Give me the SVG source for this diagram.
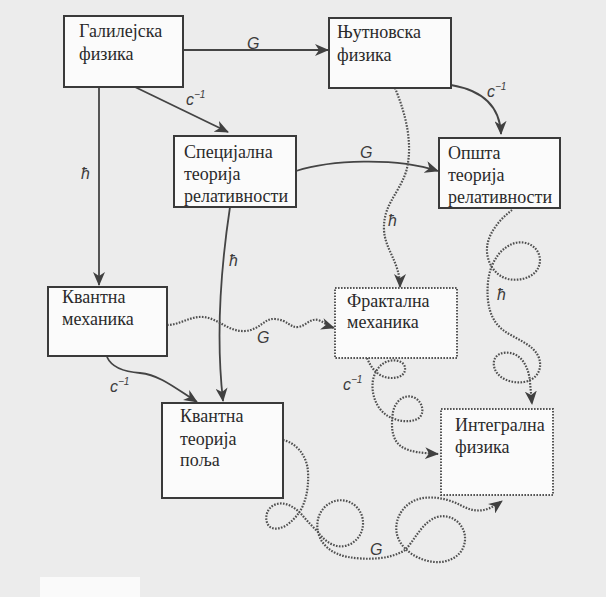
<svg xmlns="http://www.w3.org/2000/svg" width="606" height="597" viewBox="0 0 606 597">
<style>
.box{fill:#fbfbfb;stroke:#3a3a3a;stroke-width:2}
.dbox{fill:#fbfbfb;stroke:#555;stroke-width:2;stroke-dasharray:1.6 1.4}
.t{font-family:"Liberation Serif","Times New Roman",serif;font-size:18px;fill:#2a2a2a}
.c{fill:none;stroke:#444;stroke-width:1.8}
.d{fill:none;stroke:#505050;stroke-width:2.2;stroke-dasharray:1.6 1.4}
.l{font-family:"Liberation Sans",Arial,sans-serif;font-style:italic;font-size:16px;fill:#3c3c3c}
.s{font-size:10px}
</style>
<defs>
<marker id="ah" viewBox="0 0 14 12" refX="13" refY="6" markerWidth="14" markerHeight="12" markerUnits="userSpaceOnUse" orient="auto">
<path d="M0,0 L14,6 L0,12 L4,6 Z" fill="#404040"/>
</marker>
</defs>
<rect width="606" height="597" fill="#ececec"/>
<rect x="40" y="577" width="100" height="20" fill="#fafafa"/>

<g id="connectors">
<path class="c" d="M183,50 L328,50" marker-end="url(#ah)"/>
<path class="c" d="M135,87 L228,132" marker-end="url(#ah)"/>
<path class="c" d="M99,87 L99,285" marker-end="url(#ah)"/>
<path class="c" d="M296,171 C330,160 395,157 438,171" marker-end="url(#ah)"/>
<path class="c" d="M451,85 C480,90 500,105 501,134" marker-end="url(#ah)"/>
<path class="d" d="M395,88 C402,105 415,140 406,172 C398,195 383,205 384,230 C385,250 400,262 400,287" marker-end="url(#ah)"/>
<path class="c" d="M230,207 C222,260 215,330 223,401" marker-end="url(#ah)"/>
<path class="d" d="M167,325 C180,325 190,316 203,317 C218,318 228,332 245,331 C260,330 264,318 275,319 C288,320 290,328 298,327 C306,326 310,318 318,320 C324,322 328,326 334,328" marker-end="url(#ah)"/>
<path class="c" d="M107,357 C112,368 125,372 140,373 C160,375 175,388 197,402" marker-end="url(#ah)"/>
<path class="d" d="M367,358 C370,365 374,372 382,376 C391,380 404,378 405,370 C406,362 397,359 389,361 C381,363 375,370 373,380 C371,392 375,406 385,414 C394,421 410,424 419,418 C425,413 423,401 413,397 C403,394 395,402 393,412 C391,425 391,440 402,447 C410,452 422,453 438,454" marker-end="url(#ah)"/>
<path class="d" d="M512,210 C499,220 486,235 487,252 C488,265 496,276 508,279 C522,282 539,276 540,261 C540,247 527,240 515,243 C501,247 490,262 488,282 C486,303 490,320 503,330 C515,339 534,344 539,358 C543,370 536,380 524,382 C511,384 496,378 494,366 C492,355 503,350 514,354 C524,358 529,370 530,382 L532,404" marker-end="url(#ah)"/>
<path class="d" d="M283,440 C296,443 307,455 308,472 C309,490 305,505 298,514 C292,522 282,531 272,528 C264,525 264,510 274,505 C285,500 296,508 303,516 C308,522 313,527 318,532 C325,542 335,548 345,546 C358,543 366,530 362,516 C358,504 346,498 335,501 C322,505 315,518 318,532 C321,545 332,554 348,557 C365,560 390,560 405,550 C415,540 422,522 437,517 C452,513 466,525 465,540 C464,555 450,563 435,562 C420,561 405,552 399,540 C393,528 397,512 410,503 C423,494 445,497 460,505 C472,511 483,515 502,501" marker-end="url(#ah)"/>
<text class="l" x="247" y="49">G</text>
<text class="l" x="186" y="105">c<tspan class="s" dy="-7">−1</tspan></text>
<text class="l" x="81" y="179">ħ</text>
<text class="l" x="360" y="158">G</text>
<text class="l" x="487" y="97">c<tspan class="s" dy="-7">−1</tspan></text>
<text class="l" x="388" y="226">ħ</text>
<text class="l" x="229" y="266">ħ</text>
<text class="l" x="257" y="343">G</text>
<text class="l" x="110" y="392">c<tspan class="s" dy="-7">−1</tspan></text>
<text class="l" x="343" y="390">c<tspan class="s" dy="-7">−1</tspan></text>
<text class="l" x="497" y="300">ħ</text>
<text class="l" x="370" y="555">G</text>
</g>

<g id="galilean">
<rect class="box" x="64" y="16" width="119" height="71"/>
<text class="t" x="79" y="37">Галилејска</text>
<text class="t" x="79" y="60">физика</text>
</g>
<g id="newtonian">
<rect class="box" x="329" y="18" width="122" height="70"/>
<text class="t" x="337" y="38">Њутновска</text>
<text class="t" x="337" y="61">физика</text>
</g>
<g id="special-relativity">
<rect class="box" x="174" y="136" width="122" height="71"/>
<text class="t" x="184" y="158">Специјална</text>
<text class="t" x="184" y="180">теорија</text>
<text class="t" x="184" y="202">релативности</text>
</g>
<g id="general-relativity">
<rect class="box" x="439" y="138" width="121" height="70"/>
<text class="t" x="448" y="159">Општа</text>
<text class="t" x="448" y="181">теорија</text>
<text class="t" x="448" y="203">релативности</text>
</g>
<g id="quantum-mechanics">
<rect class="box" x="48" y="287" width="119" height="69"/>
<text class="t" x="62" y="303">Квантна</text>
<text class="t" x="62" y="325">механика</text>
</g>
<g id="fractal-mechanics">
<rect class="dbox" x="335" y="288" width="122" height="70"/>
<text class="t" x="347" y="307">Фрактална</text>
<text class="t" x="347" y="328">механика</text>
</g>
<g id="qft">
<rect class="box" x="162" y="403" width="121" height="95"/>
<text class="t" x="180" y="422">Квантна</text>
<text class="t" x="180" y="445">теорија</text>
<text class="t" x="180" y="466">поља</text>
</g>
<g id="integral-physics">
<rect class="dbox" x="441" y="409" width="112" height="86"/>
<text class="t" x="455" y="431">Интегрална</text>
<text class="t" x="455" y="453">физика</text>
</g>
</svg>
